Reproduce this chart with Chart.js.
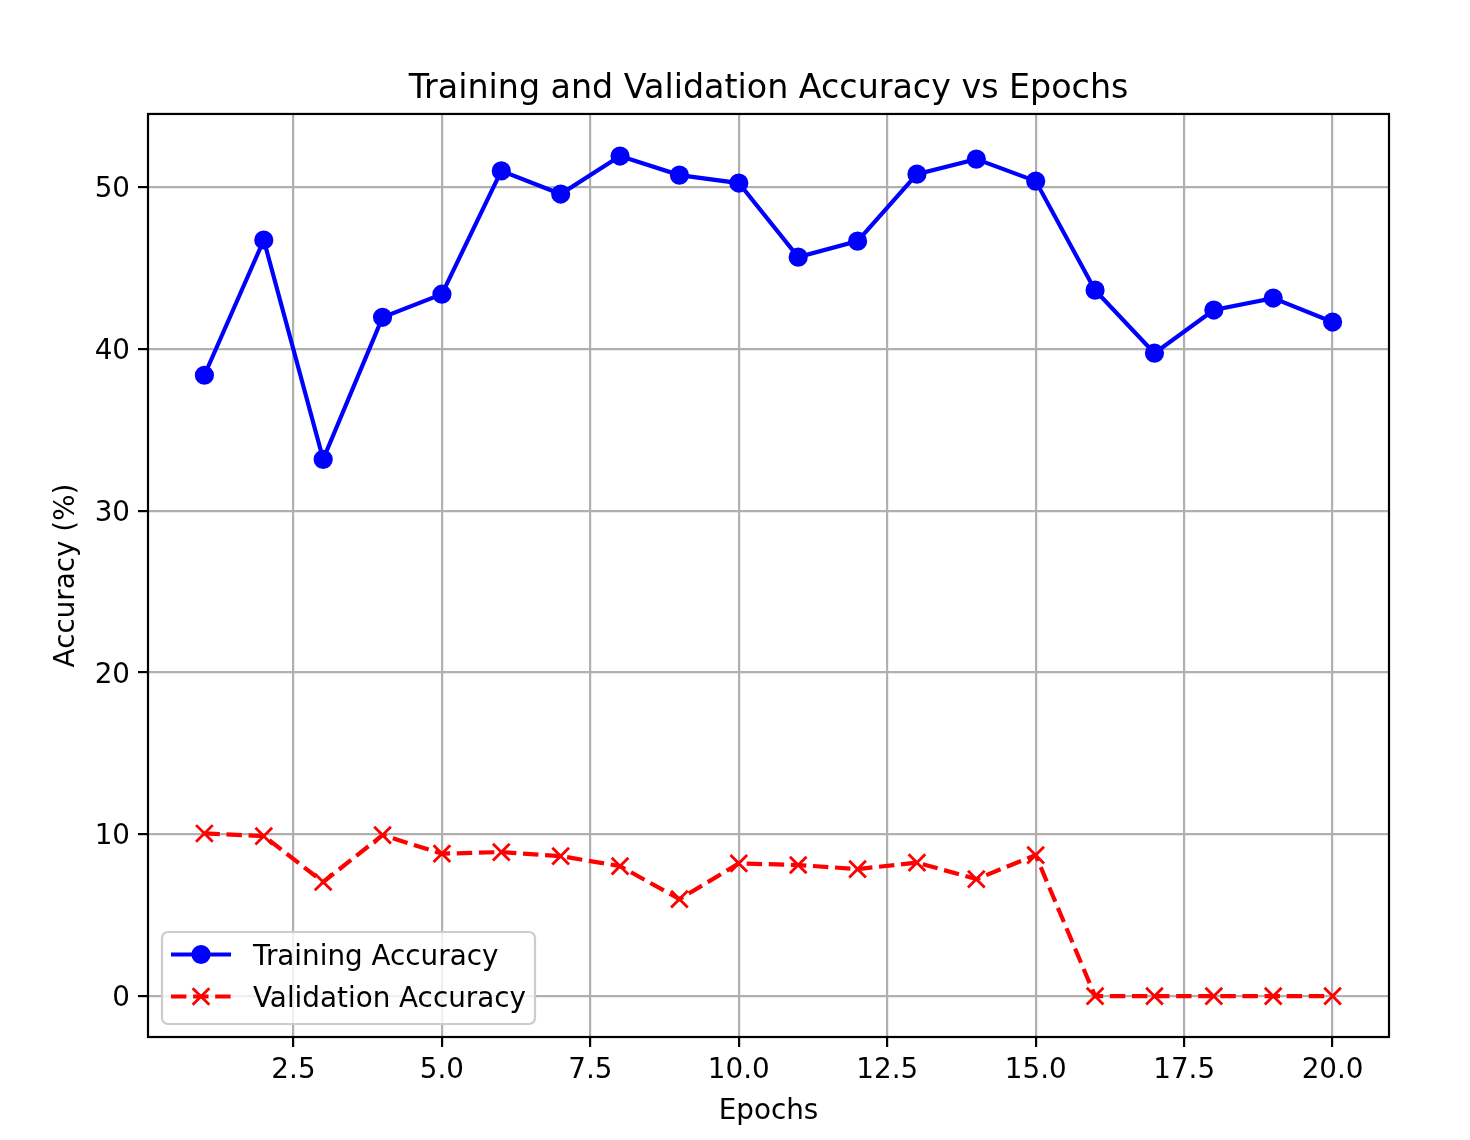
<!DOCTYPE html>
<html><head><meta charset="utf-8">
<script src="https://cdn.jsdelivr.net/npm/chart.js@4.4.1/dist/chart.umd.min.js"></script>
<style>html,body{margin:0;padding:0;background:#fff;} canvas{display:block;}</style>
</head><body>
<canvas id="c" width="1470" height="1140" style="width:1470px;height:1140px"></canvas>
<script>
const epochs = [1,2,3,4,5,6,7,8,9,10,11,12,13,14,15,16,17,18,19,20];
const trainingAccuracy = [38.37,46.73,33.17,41.95,43.38,51.0,49.57,51.92,50.74,50.25,45.67,46.66,50.8,51.73,50.37,43.63,39.74,42.4,43.14,41.66];
const validationAccuracy = [10.05,9.89,7.05,9.95,8.8,8.9,8.65,8.03,5.99,8.2,8.1,7.85,8.25,7.23,8.71,0,0,0,0,0];
const xTickValues = [2.5,5,7.5,10,12.5,15,17.5,20];
const yTickValues = [0,10,20,30,40,50];
const seriesNames = ['Training Accuracy','Validation Accuracy'];

const FONT = 'DejaVu Sans';
const DASH = [15.4, 6.7];

const framePlugin = {
  id: 'frame',
  afterDatasetsDraw(chart) {
    const {ctx, chartArea: a} = chart;
    ctx.save();
    ctx.strokeStyle = '#000';
    ctx.lineWidth = 2.2;
    ctx.strokeRect(a.left, a.top, a.right - a.left, a.bottom - a.top);
    ctx.restore();
  }
};

const legendPlugin = {
  id: 'mplLegend',
  afterDraw(chart) {
    const ctx = chart.ctx;
    const x = 162, y = 932, w = 373, h = 92, r = 6;
    ctx.save();
    ctx.beginPath();
    ctx.roundRect(x, y, w, h, r);
    ctx.fillStyle = 'rgba(255,255,255,0.8)';
    ctx.fill();
    ctx.strokeStyle = '#cccccc';
    ctx.lineWidth = 2.2;
    ctx.stroke();
    const rows = [954.5, 996.5];
    const ds = chart.data.datasets;
    rows.forEach((ry, i) => {
      const d = ds[i];
      ctx.strokeStyle = d.borderColor;
      ctx.lineWidth = d.borderWidth;
      ctx.setLineDash(d.borderDash || []);
      ctx.beginPath();
      ctx.moveTo(171, ry);
      ctx.lineTo(231, ry);
      ctx.stroke();
      ctx.setLineDash([]);
      ctx.fillStyle = d.pointBackgroundColor;
      ctx.strokeStyle = d.pointBorderColor;
      ctx.lineWidth = d.pointBorderWidth;
      ctx.beginPath();
      if (d.pointStyle === 'circle') {
        ctx.arc(201, ry, d.pointRadius, 0, Math.PI * 2);
        ctx.fill();
        ctx.stroke();
      } else {
        const k = d.pointRadius * Math.SQRT1_2;
        ctx.moveTo(201 - k, ry - k); ctx.lineTo(201 + k, ry + k);
        ctx.moveTo(201 - k, ry + k); ctx.lineTo(201 + k, ry - k);
        ctx.stroke();
      }
      ctx.fillStyle = '#000';
      ctx.font = '27.8px "' + FONT + '"';
      ctx.textBaseline = 'middle';
      ctx.textAlign = 'left';
      ctx.fillText(d.label, 253, ry + 3);
    });
    ctx.restore();
  }
};

new Chart(document.getElementById('c'), {
  type: 'line',
  data: {
    datasets: [
      {
        label: seriesNames[0],
        data: epochs.map((e, i) => ({x: e, y: trainingAccuracy[i]})),
        borderColor: '#0000ff',
        backgroundColor: '#0000ff',
        borderWidth: 4.2,
        pointStyle: 'circle',
        pointRadius: 8.3,
        pointBorderWidth: 2.6,
        pointBackgroundColor: '#0000ff',
        pointBorderColor: '#0000ff',
        tension: 0,
        fill: false
      },
      {
        label: seriesNames[1],
        data: epochs.map((e, i) => ({x: e, y: validationAccuracy[i]})),
        borderColor: '#ff0000',
        backgroundColor: '#ff0000',
        borderWidth: 4.2,
        borderDash: DASH,
        pointStyle: 'crossRot',
        pointRadius: 11.8,
        pointBorderWidth: 2.8,
        pointBackgroundColor: '#ff0000',
        pointBorderColor: '#ff0000',
        tension: 0,
        fill: false
      }
    ]
  },
  options: {
    responsive: false,
    animation: false,
    devicePixelRatio: 1,
    events: [],
    layout: {padding: {left: 0, right: 81, top: 0, bottom: 0}},
    plugins: {
      legend: {display: false},
      tooltip: {enabled: false},
      title: {
        display: true,
        text: 'Training and Validation Accuracy vs Epochs',
        fullSize: false,
        color: '#000',
        font: {family: FONT, size: 33.3, weight: 'normal'},
        padding: {top: 69, bottom: 5}
      }
    },
    scales: {
      x: {
        type: 'linear',
        min: 0.05,
        max: 20.95,
        afterBuildTicks(scale) { scale.ticks = xTickValues.map(v => ({value: v})); },
        afterFit(scale) { scale.height = 103; },
        ticks: {
          color: '#000',
          font: {family: FONT, size: 27.8},
          padding: 7,
          maxRotation: 0,
          autoSkip: false,
          callback: v => Number(v).toFixed(1)
        },
        grid: {color: '#b0b0b0', lineWidth: 2.2, tickColor: '#000', tickLength: 10, tickWidth: 2.2},
        border: {display: false},
        title: {
          display: true, text: 'Epochs', color: '#000',
          font: {family: FONT, size: 27.8}, padding: {top: 0, bottom: 12}
        }
      },
      y: {
        type: 'linear',
        min: -2.53,
        max: 54.52,
        afterBuildTicks(scale) { scale.ticks = yTickValues.map(v => ({value: v})); },
        afterFit(scale) { scale.width = 148; },
        ticks: {
          color: '#000',
          font: {family: FONT, size: 27.8},
          padding: 8,
          labelOffset: 3,
          autoSkip: false,
          callback: v => String(v)
        },
        grid: {color: '#b0b0b0', lineWidth: 2.2, tickColor: '#000', tickLength: 10, tickWidth: 2.2},
        border: {display: false},
        title: {
          display: true, text: 'Accuracy (%)', color: '#000',
          font: {family: FONT, size: 27.8}, padding: {top: 50, bottom: 0}
        }
      }
    }
  },
  plugins: [framePlugin, legendPlugin]
});
</script>
</body></html>
